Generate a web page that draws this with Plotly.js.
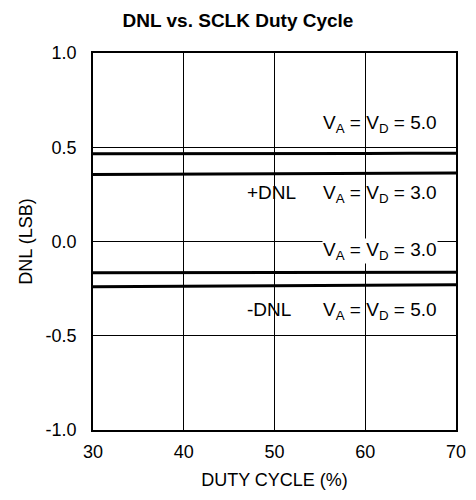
<!DOCTYPE html>
<html>
<head>
<meta charset="utf-8">
<script src="https://cdn.plot.ly/plotly-3.0.1.min.js"></script>
<style>
  html, body { margin: 0; padding: 0; background: #fff; }
  #chart { width: 476px; height: 500px; }
</style>
</head>
<body>
<div id="chart"></div>
<script>
// Duty cycle (%)
const dutyCycle = [30, 35, 40, 45, 50, 55, 60, 65, 70];
// DNL (LSB) readings
const posDnl5V = [0.465, 0.465, 0.464, 0.465, 0.466, 0.467, 0.467, 0.468, 0.468];
const posDnl3V = [0.356, 0.357, 0.358, 0.359, 0.360, 0.361, 0.362, 0.363, 0.364];
const negDnl3V = [-0.166, -0.166, -0.166, -0.165, -0.165, -0.164, -0.164, -0.163, -0.163];
const negDnl5V = [-0.240, -0.239, -0.237, -0.235, -0.233, -0.232, -0.231, -0.230, -0.229];

const xTicks = [30, 40, 50, 60, 70];
const yTicks = [-1.0, -0.5, 0.0, 0.5, 1.0];
const yTickText = ['-1.0', '-0.5', '0.0', '0.5', '1.0'];

const FONT = 'Liberation Sans, Arial, Helvetica, sans-serif';
const seriesList = [posDnl5V, posDnl3V, negDnl3V, negDnl5V];
const traces = seriesList.map(ys => ({
  x: dutyCycle, y: ys, mode: 'lines', type: 'scatter',
  line: { color: '#000', width: 3 }, hoverinfo: 'skip', showlegend: false
}));

const annFont = { family: FONT, size: 19, color: '#000' };
const vLabel5 = 'V<sub>A</sub> = V<sub>D</sub> = 5.0';
const vLabel3 = 'V<sub>A</sub> = V<sub>D</sub> = 3.0';
const annotations = [
  { x: 68.05, y: 0.625, text: vLabel5, xanchor: 'right', yanchor: 'middle' },
  { x: 46.9, y: 0.262, text: '+DNL', xanchor: 'left', yanchor: 'middle' },
  { x: 68.05, y: 0.254, text: vLabel3, xanchor: 'right', yanchor: 'middle' },
  { x: 68.05, y: -0.053, text: vLabel3, xanchor: 'right', yanchor: 'middle', bgcolor: '#fff' },
  { x: 46.9, y: -0.363, text: '-DNL', xanchor: 'left', yanchor: 'middle' },
  { x: 68.05, y: -0.371, text: vLabel5, xanchor: 'right', yanchor: 'middle' }
].map(a => Object.assign({ xref: 'x', yref: 'y', showarrow: false, font: annFont, borderpad: 0 }, a));

const layout = {
  width: 476, height: 500,
  margin: { l: 93, r: 20, t: 53, b: 70 },
  paper_bgcolor: '#fff', plot_bgcolor: '#fff',
  font: { family: FONT, size: 18, color: '#000' },
  title: { text: '<b>DNL vs. SCLK Duty Cycle</b>', font: { family: FONT, size: 19, color: '#000' },
           x: 0.5, xref: 'container', xanchor: 'center', y: 0.96, yref: 'container', yanchor: 'middle' },
  xaxis: {
    range: [30, 70], tickvals: xTicks, ticktext: xTicks.map(String),
    tickfont: { family: FONT, size: 18, color: '#000' },
    showgrid: true, gridcolor: '#000', gridwidth: 1, zeroline: false,
    showline: true, linecolor: '#000', linewidth: 1.5, mirror: true,
    ticks: '', ticklabelstandoff: 5,
    title: { text: 'DUTY CYCLE (%)', font: { family: FONT, size: 18, color: '#000' }, standoff: 12 },
    fixedrange: true
  },
  yaxis: {
    range: [-1, 1], tickvals: yTicks, ticktext: yTickText,
    tickfont: { family: FONT, size: 18, color: '#000' },
    showgrid: true, gridcolor: '#000', gridwidth: 1, zeroline: false,
    showline: true, linecolor: '#000', linewidth: 1.5, mirror: true,
    ticks: '', ticklabelstandoff: 11,
    title: { text: 'DNL (LSB)', font: { family: FONT, size: 18, color: '#000' }, standoff: 8 },
    fixedrange: true
  },
  annotations: annotations,
  showlegend: false
};

Plotly.newPlot('chart', traces, layout, { displayModeBar: false, responsive: false });
</script>
</body>
</html>
